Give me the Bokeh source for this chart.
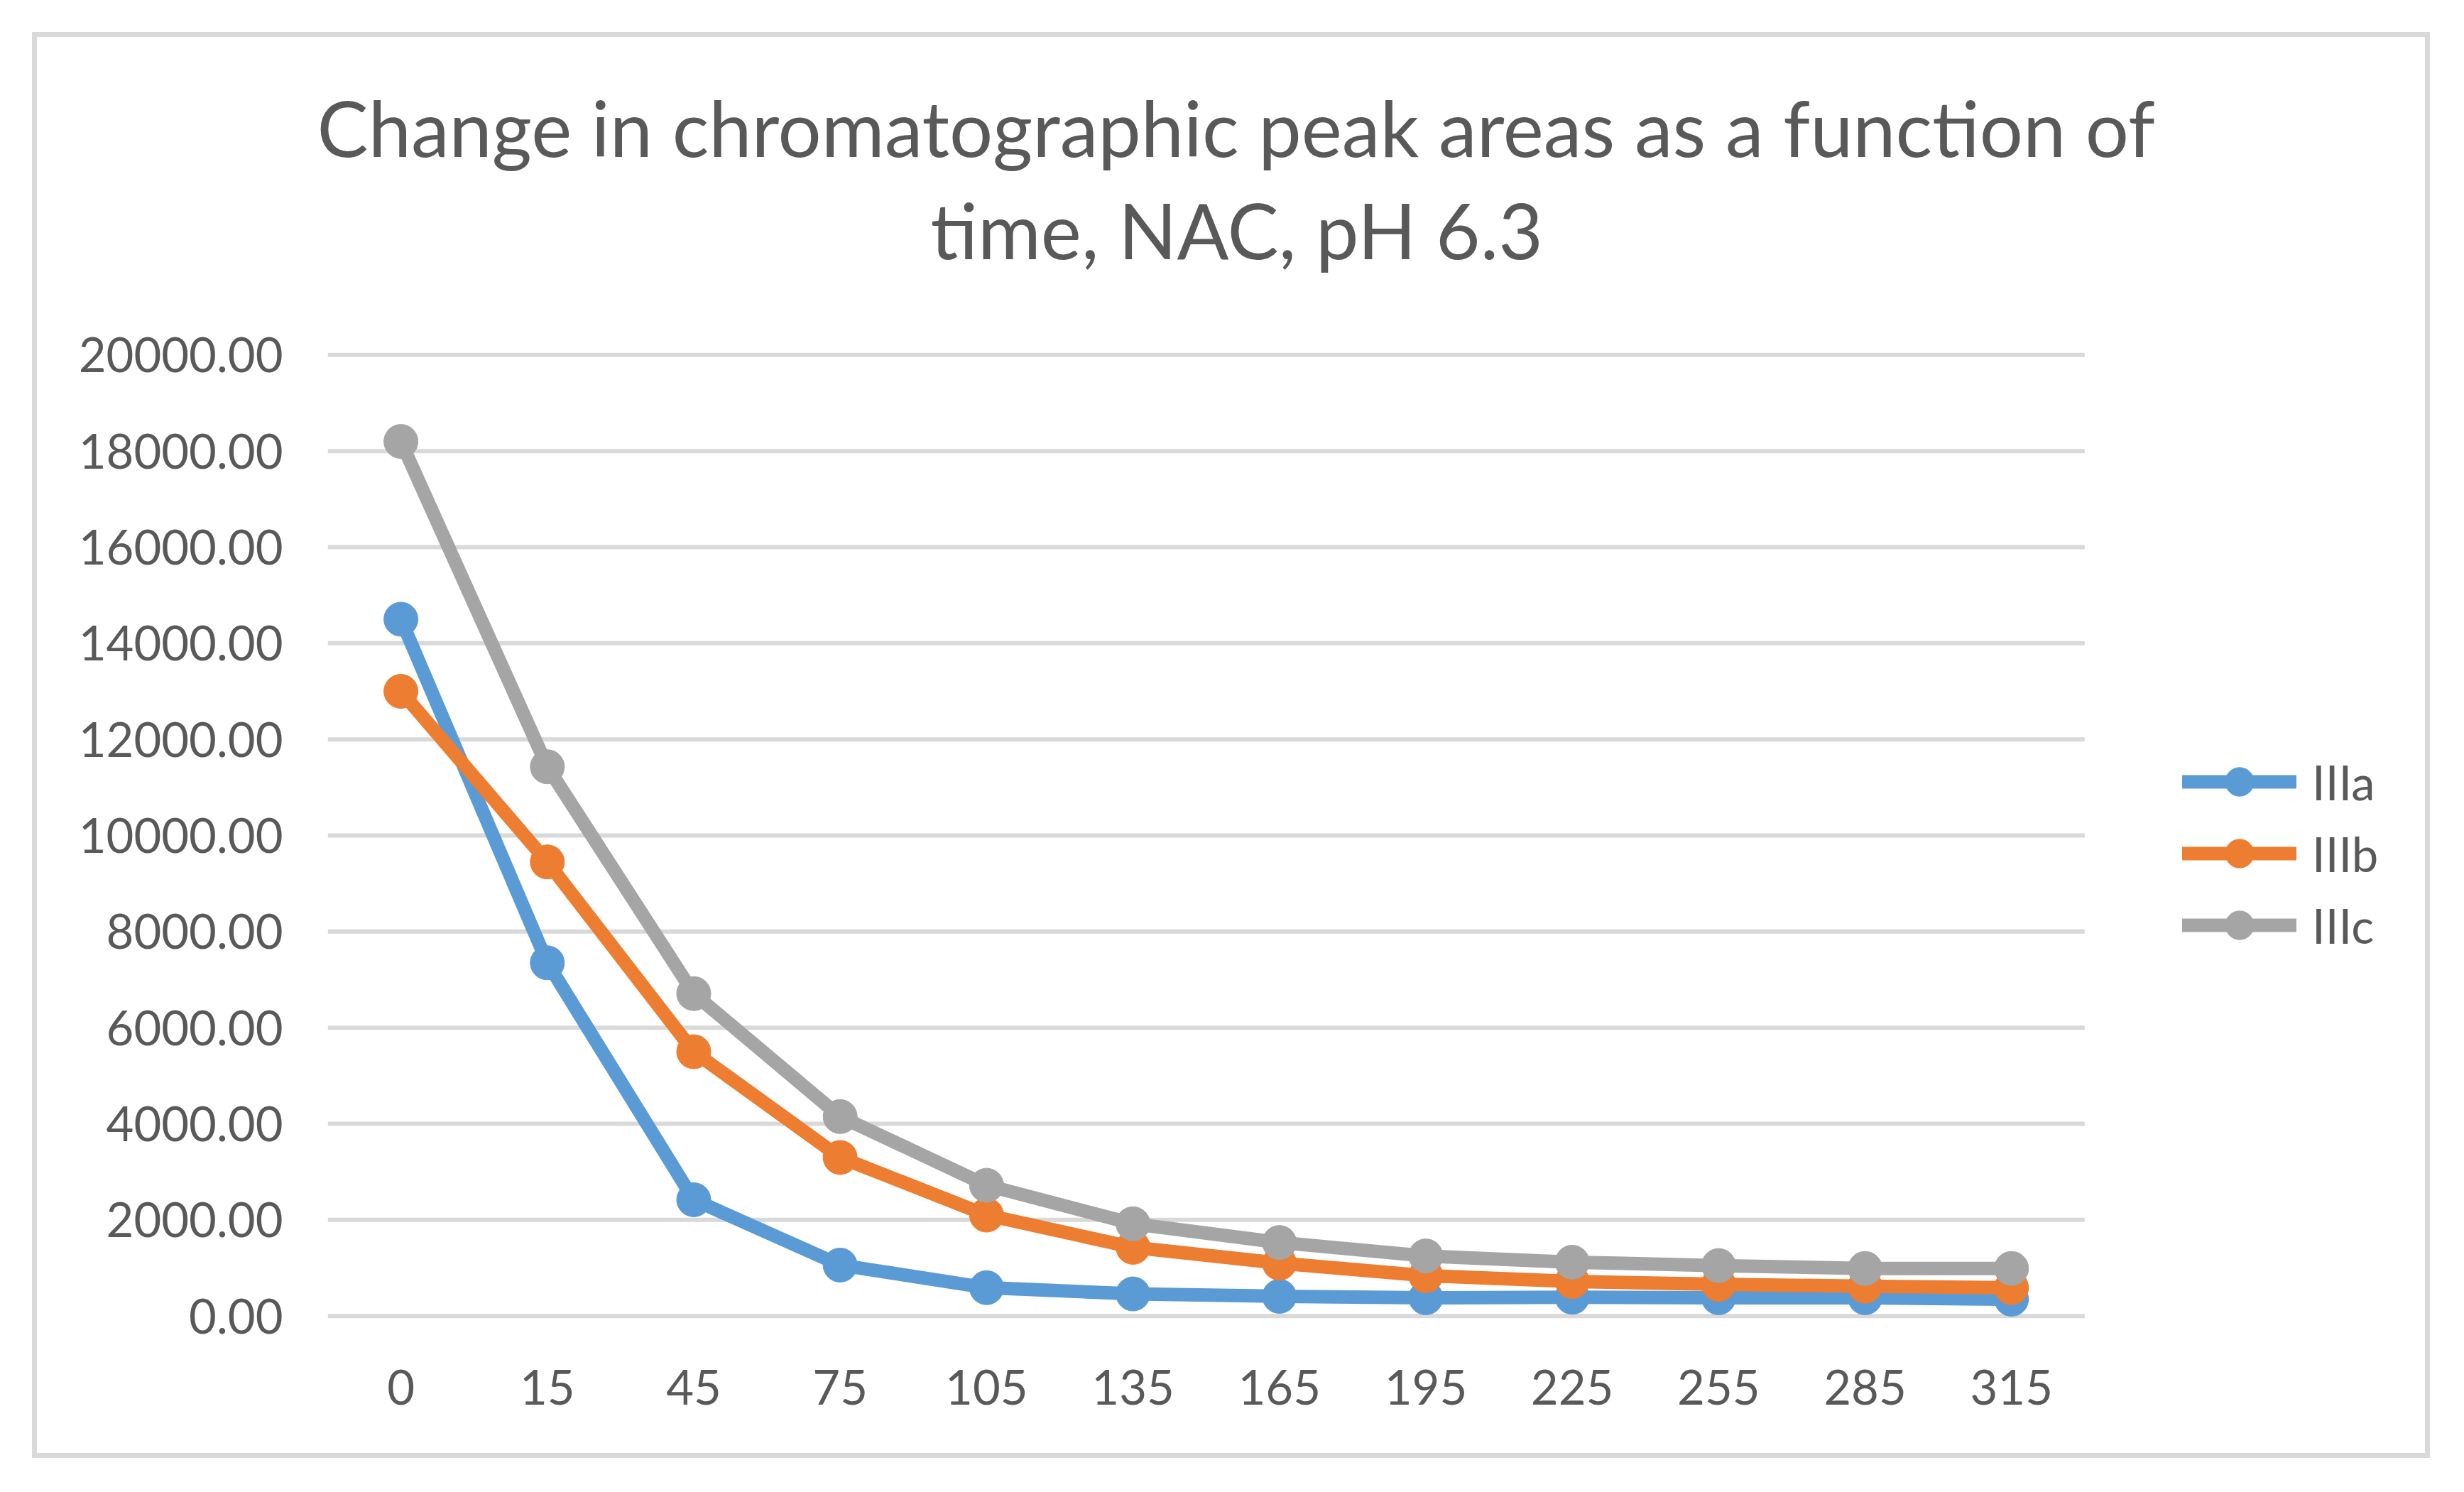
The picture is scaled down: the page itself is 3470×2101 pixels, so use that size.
from bokeh.plotting import figure
from bokeh.models import (ColumnDataSource, Range1d, FixedTicker, CustomJSTickFormatter,
                          NumeralTickFormatter, Legend, LegendItem, Title)
from bokeh.embed import file_html
from bokeh.resources import INLINE

# time points (min) and peak areas
minutes = ["0", "15", "45", "75", "105", "135", "165", "195", "225", "255", "285", "315"]
iiia = [14500, 7350, 2420, 1060, 590, 460, 410, 380, 390, 380, 380, 350]
iiib = [13000, 9450, 5500, 3300, 2100, 1430, 1100, 840, 720, 660, 620, 590]
iiic = [18200, 11430, 6710, 4150, 2720, 1920, 1530, 1250, 1120, 1050, 990, 990]
y_ticks = [0, 2000, 4000, 6000, 8000, 10000, 12000, 14000, 16000, 18000, 20000]

series = [("IIIa", iiia, "#5B9BD5"), ("IIIb", iiib, "#ED7D31"), ("IIIc", iiic, "#A5A5A5")]

FONT = "Lato"
TEXT = "#595959"
GRID = "#D9D9D9"

W, H = 3363, 1994
LEFT = 409
FRAME_W = 2982         # frame runs to the right edge, the legend sits in the spare band
PLOT_W = 2486          # width of the category band
n = len(minutes)
x_pos = [i + 0.5 for i in range(n)]

source = ColumnDataSource(data=dict(x=x_pos, IIIa=iiia, IIIb=iiib, IIIc=iiic))

p = figure(
    width=W, height=H,
    x_range=Range1d(0, n * FRAME_W / PLOT_W),
    y_range=Range1d(-300, 20300),
    output_backend="svg",
    toolbar_location=None,
    min_border_left=LEFT, min_border_right=0,
    min_border_top=427, min_border_bottom=187,
    styles={"border": "7px solid #D9D9D9", "box-sizing": "content-box",
            "margin-left": "45px", "margin-top": "45px"},
)

# title lines stack upwards from the frame: spacer, second line, first line
p.title.text = "Change in chromatographic peak areas as a function of"
p.title.align = "left"
p.title.offset = -15
p.title.text_font = FONT
p.title.text_font_size = "108px"
p.title.text_font_style = "normal"
p.title.text_color = TEXT
p.title.standoff = 24
p.add_layout(Title(text=" ", text_font_size="1px", standoff=89), "above")
p.add_layout(Title(text="time, NAC, pH 6.3", align="left", offset=849,
                   text_font=FONT, text_font_size="108px", text_font_style="normal",
                   text_color=TEXT, standoff=0), "above")

p.outline_line_color = None
p.xgrid.grid_line_color = None
p.ygrid.grid_line_color = None

# horizontal gridlines only across the category band
p.segment(x0=0, x1=n, y0=y_ticks, y1=y_ticks, line_color=GRID, line_width=6)

p.yaxis.ticker = FixedTicker(ticks=y_ticks)
p.yaxis.formatter = NumeralTickFormatter(format="0.00")
p.xaxis.ticker = FixedTicker(ticks=x_pos)
p.xaxis.formatter = CustomJSTickFormatter(args=dict(labels=minutes),
                                          code="return labels[Math.floor(tick)]")
for ax in (p.xaxis, p.yaxis):
    ax.axis_line_color = None
    ax.major_tick_line_color = None
    ax.minor_tick_line_color = None
    ax.major_label_text_font = FONT
    ax.major_label_text_font_size = "67px"
    ax.major_label_text_color = TEXT
p.yaxis.major_label_standoff = 57
p.xaxis.major_label_standoff = 49

items = []
for name, vals, color in series:
    ln = p.line("x", name, source=source, line_width=19, color=color,
                line_join="round", line_cap="round")
    sc = p.scatter("x", name, source=source, size=48, color=color)
    items.append(LegendItem(label=name, renderers=[ln, sc]))

legend = Legend(items=items, location=(2612, 520), glyph_width=161, glyph_height=101,
                label_height=101, spacing=0, padding=0, margin=0,
                border_line_color=None, background_fill_alpha=0,
                label_text_font=FONT, label_text_font_size="67px",
                label_text_color=TEXT, label_standoff=22)
p.add_layout(legend)

open("out.html", "w").write(file_html(p, INLINE))
